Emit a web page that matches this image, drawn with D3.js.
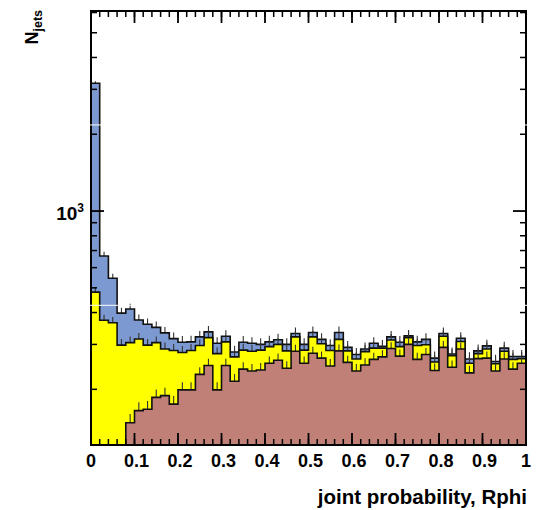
<!DOCTYPE html>
<html><head><meta charset="utf-8">
<script src="https://cdn.jsdelivr.net/npm/d3@7/dist/d3.min.js"></script>
<style>html,body{margin:0;padding:0;background:#fff;}</style>
</head><body>
<svg id="c" width="537" height="510"></svg>
<script>
// ---------------- data ----------------
const nBins = 50;
const xRange = [0, 1];
const xTickValues = [0, 0.1, 0.2, 0.3, 0.4, 0.5, 0.6, 0.7, 0.8, 0.9, 1];
const xTickLabels = ["0", "0.1", "0.2", "0.3", "0.4", "0.5", "0.6", "0.7", "0.8", "0.9", "1"];
const yRange = [121, 6085];
const yMajorTicks = [1000];
const yMinorTicks = [200, 300, 400, 500, 600, 700, 800, 900, 2000, 3000, 4000, 5000, 6000];
const seriesKeys = ["brown", "yellow", "blue"];
const brown = [0,0,0,0,148,165,167,186,189,175,199,199,229,248,199,248,215,240,236,238,253,260,242,282,253,277,265,247,283,255,236,249,262,268,289,270,300,262,274,237,292,244,288,232,264,265,236,263,240,253];
const yellow = [481,373,365,298,157,150,131,119,99,109,80,85,68,71,77,59,53,45,46,47,41,40,41,39,32,44,37,37,31,28,27,32,28,22,23,24,19,35,25,19,31,27,20,21,12,23,16,19,22,11];
const blue = [2687,293,180,100,108,59,62,45,45,32,27,23,24,17,27,16,12,21,21,15,13,13,17,10,15,13,12,13,20,9,11,7,13,5,9,12,5,10,15,9,8,4,9,10,7,8,5,8,7,5];
const seriesColors = {brown: "#c08077", yellow: "#ffff00", blue: "#7d99d1"};
const artifactLines = [2175, 427];
const xTitle = "joint probability, Rphi";

// ---------------- layout ----------------
const svg = d3.select("#c");
const L = 91, R = 526, T = 11, B = 445;
const x = d3.scaleLinear().domain(xRange).range([L, R]);
const y = d3.scaleLog().domain(yRange).range([B, T]).clamp(true);
const binW = (xRange[1] - xRange[0]) / nBins;
const font = "'Liberation Sans', Arial, Helvetica, sans-serif";

const rows = d3.range(nBins).map(i => ({lo: xRange[0] + i * binW, brown: brown[i], yellow: yellow[i], blue: blue[i]}));
const stacked = d3.stack().keys(seriesKeys)(rows);

const line = d3.line().curve(d3.curveStepAfter).x(d => x(d[0])).y(d => y(Math.max(d[1], yRange[0])));

function layerPoints(layer) {
  const pts = [[xRange[0], yRange[0]]];
  layer.forEach((d, i) => pts.push([rows[i].lo, d[1]]));
  pts.push([xRange[1], layer[layer.length - 1][1]]);
  pts.push([xRange[1], yRange[0]]);
  return pts;
}

// draw from top of stack down so lower layers cover the ones above
for (let k = seriesKeys.length - 1; k >= 0; k--) {
  const layer = stacked[k];
  const key = seriesKeys[k];
  const g = svg.append("g");
  g.selectAll("line.err").data(layer).join("line")
    .attr("x1", (d, i) => x(rows[i].lo + binW / 2))
    .attr("x2", (d, i) => x(rows[i].lo + binW / 2))
    .attr("y1", d => y(Math.max(d[1] - Math.sqrt(d[1]), yRange[0])))
    .attr("y2", d => y(Math.max(d[1] + Math.sqrt(d[1]), yRange[0])))
    .attr("stroke", "#333").attr("stroke-width", 1.1);
  const pts = layerPoints(layer);
  g.append("path").attr("d", line(pts) + "Z")
    .attr("fill", seriesColors[key]).attr("stroke", "none");
  g.append("path").attr("d", line(pts))
    .attr("fill", "none").attr("stroke", "#111").attr("stroke-width", 1.6)
    .attr("stroke-linejoin", "miter");
}

// ---------------- axes ----------------
const axG = svg.append("g").attr("stroke", "#000");
const minorX = d3.range(0, nBins + 1).map(i => xRange[0] + i * binW);
minorX.forEach(v => {
  axG.append("line").attr("x1", x(v)).attr("x2", x(v)).attr("y1", B).attr("y2", B - 6).attr("stroke-width", 1.5);
  axG.append("line").attr("x1", x(v)).attr("x2", x(v)).attr("y1", T).attr("y2", T + 6).attr("stroke-width", 1.5);
});
xTickValues.forEach(v => {
  axG.append("line").attr("x1", x(v)).attr("x2", x(v)).attr("y1", B).attr("y2", B - 12).attr("stroke-width", 1.8);
  axG.append("line").attr("x1", x(v)).attr("x2", x(v)).attr("y1", T).attr("y2", T + 12).attr("stroke-width", 1.8);
});
yMinorTicks.forEach(v => {
  axG.append("line").attr("x1", L).attr("x2", L + 6).attr("y1", y(v)).attr("y2", y(v)).attr("stroke-width", 1.5);
  axG.append("line").attr("x1", R).attr("x2", R - 6).attr("y1", y(v)).attr("y2", y(v)).attr("stroke-width", 1.5);
});
yMajorTicks.forEach(v => {
  axG.append("line").attr("x1", L).attr("x2", L + 13).attr("y1", y(v)).attr("y2", y(v)).attr("stroke-width", 1.8);
  axG.append("line").attr("x1", R).attr("x2", R - 13).attr("y1", y(v)).attr("y2", y(v)).attr("stroke-width", 1.8);
});
svg.append("rect").attr("x", L).attr("y", T).attr("width", R - L).attr("height", B - T)
  .attr("fill", "none").attr("stroke", "#000").attr("stroke-width", 2);

// rendering artifacts (white horizontal hairlines)
artifactLines.forEach(v => {
  svg.append("line").attr("x1", L - 1).attr("x2", R + 1).attr("y1", y(v)).attr("y2", y(v))
    .attr("stroke", "#fff").attr("stroke-width", 1);
});

// x tick labels
svg.append("g").selectAll("text").data(xTickValues).join("text")
  .attr("x", d => x(d) + (d > 0 && d < 1 ? 2 : 0)).attr("y", 467)
  .attr("text-anchor", "middle")
  .attr("font-family", font).attr("font-weight", "bold").attr("font-size", 18)
  .text((d, i) => xTickLabels[i]);

// y tick label 10^3
const yl = svg.append("text").attr("x", 84).attr("y", y(1000) + 9)
  .attr("text-anchor", "end").attr("font-family", font).attr("font-weight", "bold").attr("font-size", 19);
yl.append("tspan").text("10");
yl.append("tspan").attr("font-size", 12).attr("dy", -8).text("3");

// x title
svg.append("text").attr("x", 527).attr("y", 504).attr("text-anchor", "end")
  .attr("font-family", font).attr("font-weight", "bold").attr("font-size", 20.5).text(xTitle);

// y title N_jets
const yt = svg.append("text").attr("transform", "translate(38,10) rotate(-90)")
  .attr("text-anchor", "end").attr("font-family", font).attr("font-weight", "bold").attr("font-size", 18);
yt.append("tspan").text("N");
yt.append("tspan").attr("font-size", 12.5).attr("dy", 4).text("jets");
</script>
</body></html>
